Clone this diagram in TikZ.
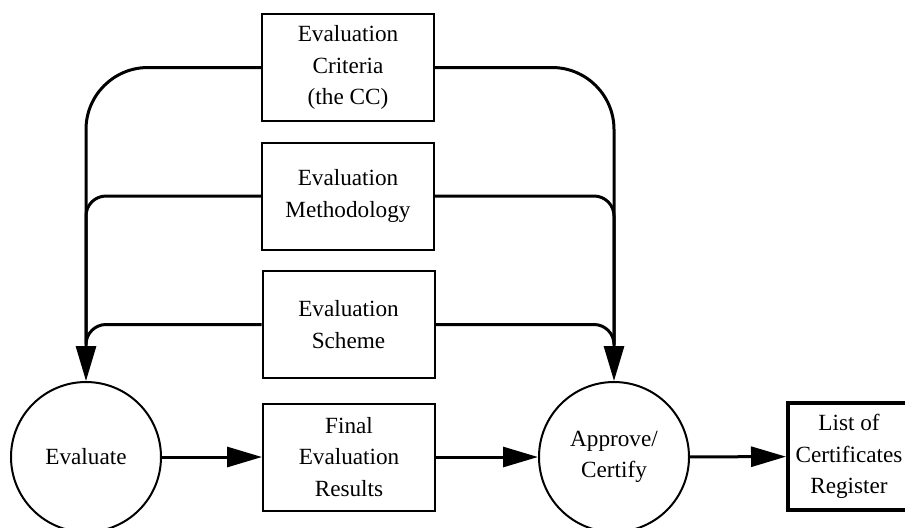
\documentclass[tikz,border=0pt]{standalone}
\usepackage{fontspec}
\setmainfont{Liberation Serif}
\usepackage{tikz}
\usetikzlibrary{positioning,calc,arrows.meta}

\begin{document}
\begin{tikzpicture}[x=0.5pt,y=-0.5pt,
    every node/.style={font=\fontsize{11.6}{15.6}\selectfont, align=center},
    doc/.style={draw, line width=1pt, minimum width=86pt, minimum height=53.5pt, inner sep=0pt},
    proc/.style={draw, circle, line width=1pt, minimum size=75pt, inner sep=0pt},
    flow/.style={line width=1.5pt, -{Triangle[length=17.5pt,width=10pt]}},
    feed/.style={line width=1.5pt}]
    \useasboundingbox (0,0) rectangle (905,527);
    % inputs
    \node[doc] (crit) at (348,67.5) {Evaluation\\Criteria\\(the CC)};
    \node[doc] (meth) at (348,196) {Evaluation\\Methodology};
    \node[doc] (scheme) at (348.5,324.5) {Evaluation\\Scheme};
    \node[doc] (final) at (349,457) {Final\\Evaluation\\Results};
    % processes
    \node[proc] (eval) at (86,457) {Evaluate};
    \node[proc] (appr) at (614,457) {Approve/\\Certify};
    \node[doc, line width=2pt, minimum width=61pt] (list) at (849,456.5) {List of\\Certificates\\Register};

    \coordinate (evalin) at ([yshift=20pt]eval.north);
    \coordinate (apprin) at ([yshift=20pt]appr.north);

    \draw[flow, rounded corners=31pt] (crit.west) -| (eval.north);
    \draw[flow, rounded corners=31pt] (crit.east) -| (appr.north);
    \draw[feed, rounded corners=10pt] (meth.west) -| (evalin);
    \draw[feed, rounded corners=10pt] (meth.east) -| (apprin);
    \draw[feed, rounded corners=10pt] (scheme.west) -| (evalin);
    \draw[feed, rounded corners=10pt] (scheme.east) -| (apprin);

    % main line
    \draw[flow] (eval) -- (final);
    \draw[flow] (final) -- (appr);
    \draw[flow] (appr) -- (list);
\end{tikzpicture}
\end{document}
